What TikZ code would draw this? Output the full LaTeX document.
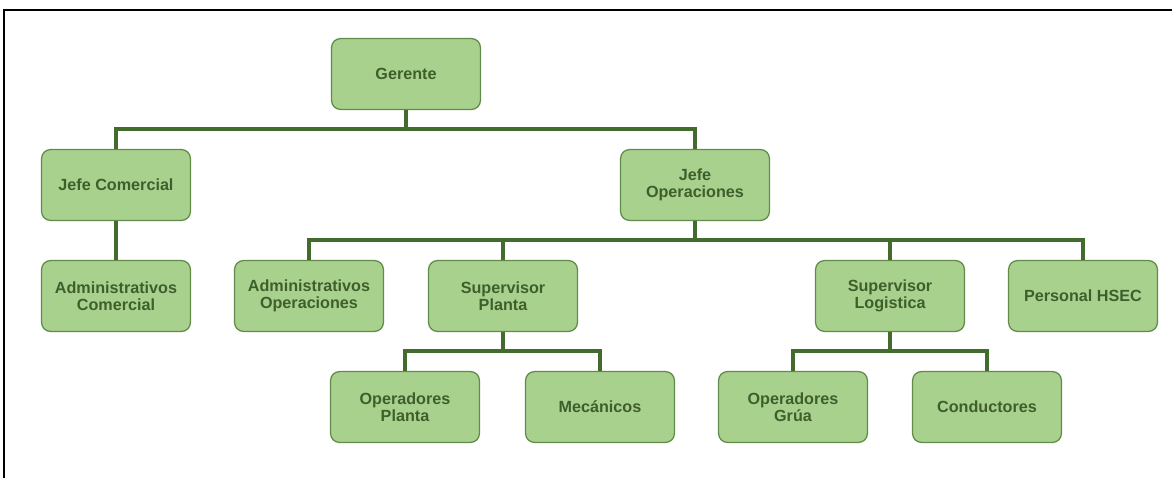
\documentclass[tikz,border=0pt]{standalone}
\usepackage{fontspec}
\setmainfont{Liberation Sans}
\usetikzlibrary{positioning}
\definecolor{boxfill}{HTML}{A9D18E}
\definecolor{boxedge}{HTML}{628A4A}
\definecolor{linegreen}{HTML}{446B2E}
\definecolor{textgreen}{HTML}{3E5F2C}
\begin{document}
\begin{tikzpicture}[
	cargo/.style={rectangle, rounded corners=2.2mm, draw=boxedge, line width=0.9pt, fill=boxfill,
		minimum width=3.72cm, minimum height=1.77cm, align=center, text=textgreen,
		font=\fontsize{11.5}{12}\selectfont\bfseries},
	enlace/.style={draw=linegreen, line width=2.4pt},
	]
	\useasboundingbox (0,0) rectangle (29.3,11.95);
	%Marco
	\draw[line width=1.4pt] (0.11,0) -- (0.11,11.7) -- (29.3,11.7);
	%Nodes
	\node[cargo]      (ger) 	at 	(10.15,10.1)    {Gerente};
	\node[cargo]      (jc) 	at 	(2.9,7.325)     {Jefe Comercial};
	\node[cargo]      (jo) 	at 	(17.375,7.325)  {Jefe\\Operaciones};
	\node[cargo]      (admc) 	at 	(2.9,4.55)      {Administrativos\\Comercial};
	\node[cargo]      (admo) 	at 	(7.725,4.55)    {Administrativos\\Operaciones};
	\node[cargo]      (supp) 	at 	(12.575,4.55)   {Supervisor\\Planta};
	\node[cargo]      (supl) 	at 	(22.25,4.55)    {Supervisor\\Logistica};
	\node[cargo]      (hsec) 	at 	(27.075,4.55)   {Personal HSEC};
	\node[cargo]      (opp) 	at 	(10.125,1.775)  {Operadores\\Planta};
	\node[cargo]      (mec) 	at 	(15.0,1.775)    {Mecánicos};
	\node[cargo]      (opg) 	at 	(19.825,1.775)  {Operadores\\Grúa};
	\node[cargo]      (cond) 	at 	(24.675,1.775)  {Conductores};
	
	%Buses
	\coordinate (b1) at (10.15,8.725);
	\coordinate (b2) at (17.375,5.95);
	\coordinate (b3) at (12.575,3.175);
	\coordinate (b4) at (22.25,3.175);
	
	\draw[enlace] (ger.south) -- (b1);
	\draw[enlace] (jc.north) |- (b1) -| (jo.north);
	\draw[enlace] (jc.south) -- (admc.north);
	\draw[enlace] (jo.south) -- (b2);
	\draw[enlace] (admo.north) |- (b2) -| (hsec.north);
	\draw[enlace] (supp.north) -- (supp.north |- b2);
	\draw[enlace] (supl.north) -- (supl.north |- b2);
	\draw[enlace] (supp.south) -- (b3);
	\draw[enlace] (opp.north) |- (b3) -| (mec.north);
	\draw[enlace] (supl.south) -- (b4);
	\draw[enlace] (opg.north) |- (b4) -| (cond.north);
\end{tikzpicture}
\end{document}
